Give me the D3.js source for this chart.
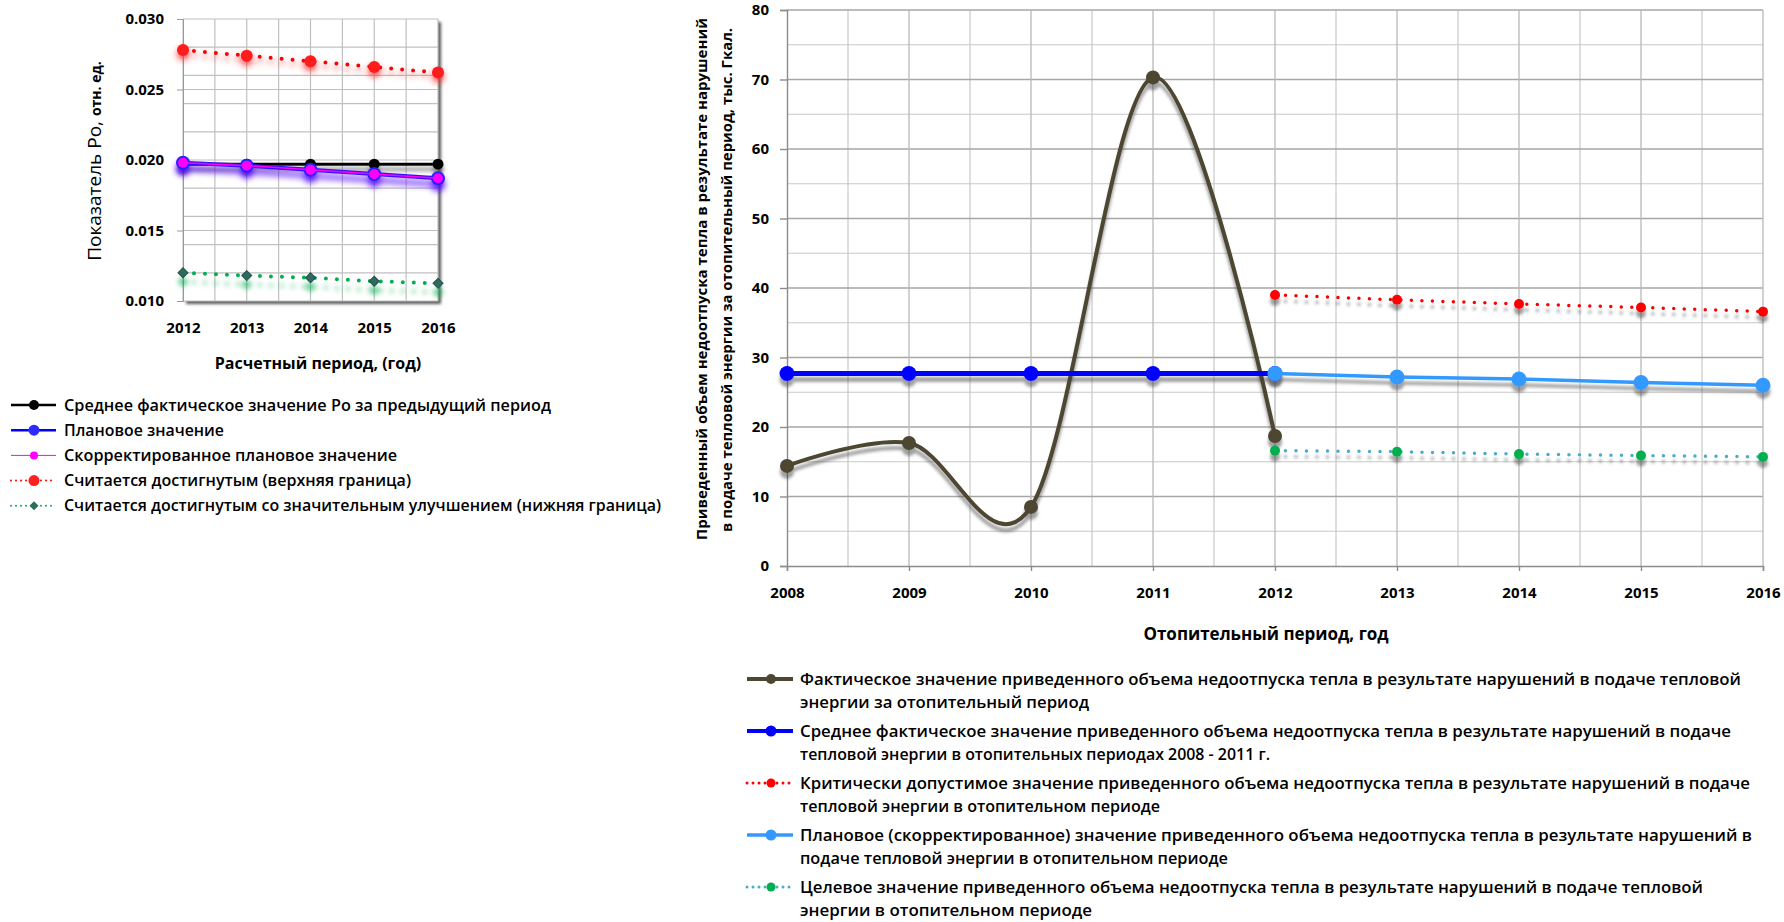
<!DOCTYPE html>
<html><head><meta charset="utf-8">
<script src="https://cdn.jsdelivr.net/npm/d3@7"></script>
<style>
body{margin:0;background:#fff}
svg{display:block}
text{font-family:'Open Sans',sans-serif;fill:#000}
</style>
</head><body>
<svg id="c" width="1784" height="922"></svg>
<script>
// ---------- DATA: left chart ----------
const yearsL = [2012, 2013, 2014, 2015, 2016];
const avgPrevL = [0.0197, 0.0197, 0.0197, 0.0197, 0.0197];
const planL = [0.0198, 0.0196, 0.0193, 0.0190, 0.0187];
const corrPlanL = [0.0198, 0.0196, 0.0193, 0.0190, 0.0187];
const upperL = [0.0278, 0.0274, 0.0270, 0.0266, 0.0262];
const lowerL = [0.0120, 0.0118, 0.01165, 0.0114, 0.01125];
const yTicksL = [0.010, 0.015, 0.020, 0.025, 0.030];
const yGridL = [0.010, 0.012, 0.014, 0.015, 0.016, 0.018, 0.020, 0.022, 0.024, 0.025, 0.026, 0.028, 0.030];
const legendLabelsL = [
  "Среднее фактическое значение Ро за предыдущий период",
  "Плановое значение",
  "Скорректированное плановое значение",
  "Считается достигнутым (верхняя граница)",
  "Считается достигнутым со значительным улучшением (нижняя граница)"
];

// ---------- DATA: right chart ----------
const yearsR = [2008, 2009, 2010, 2011, 2012, 2013, 2014, 2015, 2016];
const yearsHist = [2008, 2009, 2010, 2011, 2012];
const yearsPlan = [2012, 2013, 2014, 2015, 2016];
const factR = [14.4, 17.7, 8.5, 70.3, 18.7];
const avgR = [27.7, 27.7, 27.7, 27.7, 27.7];
const critR = [39.0, 38.3, 37.7, 37.2, 36.6];
const planR = [27.7, 27.2, 26.9, 26.4, 26.0];
const targetR = [16.6, 16.45, 16.1, 15.9, 15.7];
const yTicksR = [0, 10, 20, 30, 40, 50, 60, 70, 80];
const legendLabelsR = [
  ["Фактическое значение приведенного объема недоотпуска тепла в результате нарушений в подаче тепловой", "энергии за отопительный период"],
  ["Среднее фактическое значение приведенного объема недоотпуска тепла в результате нарушений в подаче", "тепловой энергии в отопительных периодах 2008 - 2011  г."],
  ["Критически допустимое значение приведенного объема недоотпуска тепла в результате нарушений в подаче", "тепловой энергии в отопительном периоде"],
  ["Плановое (скорректированное)  значение приведенного объема недоотпуска тепла в результате нарушений в", "подаче тепловой энергии в отопительном периоде"],
  ["Целевое значение приведенного объема недоотпуска тепла в результате нарушений в подаче тепловой", "энергии в отопительном периоде"]
];
const yTitleR = ["Приведенный объем недоотпуска тепла в результате нарушений", "в подаче тепловой энергии за отопительный период, тыс. Гкал."];

// ---------- LAYOUT (sizes only) ----------
const legendWidthsL = [487, 160, 333, 347, 597];
const legendWidthsR = [[941, 289], [931, 470], [950, 360], [952, 428], [903, 292]];

const svg = d3.select('#c');
const defs = svg.append('defs');
function shadow(id, color, dx, dy, blur, op) {
  const f = defs.append('filter').attr('id', id).attr('filterUnits', 'userSpaceOnUse')
    .attr('x', 0).attr('y', 0).attr('width', 1784).attr('height', 922);
  f.append('feGaussianBlur').attr('in', 'SourceAlpha').attr('stdDeviation', blur).attr('result', 'b');
  f.append('feOffset').attr('in', 'b').attr('dx', dx).attr('dy', dy).attr('result', 'o');
  f.append('feFlood').attr('flood-color', color).attr('flood-opacity', op).attr('result', 'c');
  f.append('feComposite').attr('in', 'c').attr('in2', 'o').attr('operator', 'in').attr('result', 's');
  const m = f.append('feMerge');
  m.append('feMergeNode').attr('in', 's');
  m.append('feMergeNode').attr('in', 'SourceGraphic');
}
shadow('shBox', '#333', 3, 3, 1.5, 0.8);
shadow('shRed', '#ff2020', 0, 4, 3, 0.8);
shadow('shBlack', '#555', 0, 5, 2, 0.75);
shadow('shBlue', '#5000ff', 0, 6, 3, 0.9);
shadow('shGreen', '#00b050', 0, 9, 2.5, 0.6);
shadow('shGray', '#444', 0, 6, 1.8, 0.5);

function drawSeries(g, xs, ys, xS, yS, o) {
  const grp = g.append('g').attr('filter', o.filter ? `url(#${o.filter})` : null);
  const pts = xs.map((x, i) => [xS(x), yS(ys[i])]);
  grp.append('path').attr('d', d3.line().curve(o.curve || d3.curveLinear)(pts))
    .attr('fill', 'none').attr('stroke', o.color).attr('stroke-width', o.width)
    .attr('stroke-dasharray', o.dash || null).attr('stroke-linecap', o.dash ? 'round' : 'butt')
    .attr('stroke-linejoin', 'round');
  drawMarkers(grp, pts, o);
}
function drawMarkers(grp, pts, o) {
  if (!o.marker) return;
  pts.forEach(p => {
    if (o.marker === 'diamond') {
      grp.append('path').attr('d', d3.symbol(d3.symbolSquare, o.msize * o.msize / 2)())
        .attr('transform', `translate(${p[0]},${p[1]}) rotate(45)`)
        .attr('fill', o.mfill).attr('stroke', o.mstroke || 'none').attr('stroke-width', 1);
    } else {
      grp.append('circle').attr('cx', p[0]).attr('cy', p[1]).attr('r', o.r)
        .attr('fill', o.mfill).attr('stroke', o.mstroke || 'none').attr('stroke-width', o.mstrokeW || 0);
    }
  });
}

// ================= LEFT CHART =================
const xL = d3.scaleLinear().domain([2012, 2016]).range([183, 438]);
const yL = d3.scaleLinear().domain([0.010, 0.030]).range([301, 19]);
const gL = svg.append('g');
gL.append('rect').attr('x', xL(2012)).attr('y', yL(0.030)).attr('width', xL(2016) - xL(2012))
  .attr('height', yL(0.010) - yL(0.030)).attr('fill', '#fff').attr('filter', 'url(#shBox)');
gL.selectAll('.hg').data(yGridL).join('line').attr('x1', xL(2012)).attr('x2', xL(2016))
  .attr('y1', d => yL(d)).attr('y2', d => yL(d)).attr('stroke', '#c0c0c0').attr('stroke-width', 1.2);
gL.selectAll('.vg').data(d3.range(2012, 2016.01, 0.5)).join('line').attr('y1', yL(0.030)).attr('y2', yL(0.010))
  .attr('x1', d => xL(d)).attr('x2', d => xL(d)).attr('stroke', '#c0c0c0').attr('stroke-width', 1.2);
const axL = gL.append('g').attr('transform', `translate(${xL(2012)},0)`)
  .call(d3.axisLeft(yL).tickValues(yTicksL).tickSize(6).tickPadding(13).tickFormat(d3.format('.3f')));
axL.select('.domain').attr('stroke', '#999');
axL.selectAll('.tick line').attr('stroke', '#999');
axL.selectAll('text').attr('font-size', 15).attr('font-weight', 700).style('font-family', "'Open Sans',sans-serif");
const axLb = gL.append('g').attr('transform', `translate(0,${yL(0.010)})`)
  .call(d3.axisBottom(xL).tickValues(yearsL).tickSize(0).tickPadding(21).tickFormat(d3.format('d')));
axLb.select('.domain').remove();
axLb.selectAll('text').attr('font-size', 15).attr('font-weight', 700).style('font-family', "'Open Sans',sans-serif");

drawSeries(gL, yearsL, upperL, xL, yL, {color: '#ff0000', width: 4, dash: '0 11', marker: 'circle', r: 6, mfill: '#ff1a1a', filter: 'shRed'});
drawSeries(gL, yearsL, lowerL, xL, yL, {color: '#00b050', width: 4, dash: '0 11', marker: 'diamond', msize: 10, mfill: '#2f6b5f', mstroke: '#24504a', filter: 'shGreen'});
drawSeries(gL, yearsL, avgPrevL, xL, yL, {color: '#000', width: 3, marker: 'circle', r: 5.5, mfill: '#000', filter: 'shBlack'});
drawSeries(gL, yearsL, planL, xL, yL, {color: '#3a10ff', width: 4, marker: 'circle', r: 7, mfill: '#2020ff', filter: 'shBlue'});
drawSeries(gL, yearsL, corrPlanL, xL, yL, {color: '#ff00ff', width: 1.5, marker: 'circle', r: 5, mfill: '#ff00ff'});

gL.append('text').attr('transform', `translate(101,161) rotate(-90)`).attr('text-anchor', 'middle')
  .call(t => {
    t.append('tspan').attr('font-size', 19).attr('font-weight', 500).text('Показатель Ро, ');
    t.append('tspan').attr('font-size', 14).attr('font-weight', 700).text('отн. ед.');
  });
gL.append('text').attr('x', 318).attr('y', 369).attr('text-anchor', 'middle')
  .attr('font-size', 16).attr('font-weight', 700).text('Расчетный период, (год)');

// left legend
const legStyleL = [
  {color: '#000', width: 2.5, marker: 'circle', r: 5, mfill: '#000'},
  {color: '#0000ff', width: 2.5, marker: 'circle', r: 5.5, mfill: '#2b2bff'},
  {color: '#ff00ff', width: 1, marker: 'circle', r: 4, mfill: '#ff00ff'},
  {color: '#ff0000', width: 2, dash: '0 5', marker: 'circle', r: 5.5, mfill: '#ff2020'},
  {color: '#00b050', width: 2, dash: '0 5', marker: 'diamond', msize: 9, mfill: '#2f6b5f'}
];
const legL = svg.append('g');
legendLabelsL.forEach((lab, i) => {
  const y = 405 + i * 25.2;
  const s = legStyleL[i];
  legL.append('line').attr('x1', 11).attr('x2', 56).attr('y1', y).attr('y2', y)
    .attr('stroke', s.color).attr('stroke-width', s.width).attr('stroke-dasharray', s.dash || null)
    .attr('stroke-linecap', s.dash ? 'round' : 'butt');
  drawMarkers(legL, [[34, y]], s);
  legL.append('text').attr('x', 64).attr('y', y).attr('dy', '0.35em').attr('font-size', 16).attr('font-weight', 600)
    .attr('textLength', legendWidthsL[i]).attr('lengthAdjust', 'spacingAndGlyphs').text(lab);
});

// ================= RIGHT CHART =================
const xR = d3.scaleLinear().domain([2008, 2016]).range([787, 1763]);
const yR = d3.scaleLinear().domain([0, 80]).range([566, 10]);
const gR = svg.append('g');
gR.selectAll('.hm').data(d3.range(5, 80, 10)).join('line').attr('x1', xR(2008)).attr('x2', xR(2016))
  .attr('y1', d => yR(d)).attr('y2', d => yR(d)).attr('stroke', '#c8c8c8').attr('stroke-width', 1.2);
gR.selectAll('.vm').data(d3.range(2008.5, 2016, 1)).join('line').attr('y1', yR(80)).attr('y2', yR(0))
  .attr('x1', d => xR(d)).attr('x2', d => xR(d)).attr('stroke', '#c8c8c8').attr('stroke-width', 1.2);
gR.selectAll('.hM').data(yTicksR.filter(d => d > 0)).join('line').attr('x1', xR(2008)).attr('x2', xR(2016))
  .attr('y1', d => yR(d)).attr('y2', d => yR(d)).attr('stroke', '#a6a6a6').attr('stroke-width', 1.4);
gR.selectAll('.vM').data(yearsR.slice(1)).join('line').attr('y1', yR(80)).attr('y2', yR(0))
  .attr('x1', d => xR(d)).attr('x2', d => xR(d)).attr('stroke', '#b8b8b8').attr('stroke-width', 1.3);
const axR = gR.append('g').attr('transform', `translate(${xR(2008)},0)`)
  .call(d3.axisLeft(yR).tickValues(yTicksR).tickSize(7).tickPadding(11));
axR.select('.domain').attr('stroke', '#8c8c8c').attr('stroke-width', 1.4);
axR.selectAll('.tick line').attr('stroke', '#8c8c8c').attr('stroke-width', 1.4);
axR.selectAll('text').attr('font-size', 15).attr('font-weight', 700).style('font-family', "'Open Sans',sans-serif");
const axRb = gR.append('g').attr('transform', `translate(0,${yR(0)})`)
  .call(d3.axisBottom(xR).tickValues(yearsR).tickSize(5).tickPadding(16).tickFormat(d3.format('d')));
axRb.select('.domain').attr('stroke', '#8c8c8c').attr('stroke-width', 1.4);
axRb.selectAll('.tick line').attr('stroke', '#8c8c8c').attr('stroke-width', 1.4);
axRb.selectAll('text').attr('font-size', 15).attr('font-weight', 700).style('font-family', "'Open Sans',sans-serif");

const styR = [
  {color: '#4d4632', width: 4, curve: d3.curveCardinal.tension(0), marker: 'circle', r: 7, mfill: '#4d4632', filter: 'shGray'},
  {color: '#0000ff', width: 5, marker: 'circle', r: 7.5, mfill: '#0000ff', filter: 'shGray'},
  {color: '#ff0000', width: 3.5, dash: '0 10.5', marker: 'circle', r: 5, mfill: '#ff0000', filter: 'shGray'},
  {color: '#3399ff', width: 3.5, marker: 'circle', r: 7.5, mfill: '#3399ff', filter: 'shGray'},
  {color: '#4bacc6', width: 3.5, dash: '0 10.5', marker: 'circle', r: 5, mfill: '#00b050', filter: 'shGray'}
];
drawSeries(gR, yearsHist, factR, xR, yR, styR[0]);
drawSeries(gR, yearsHist, avgR, xR, yR, styR[1]);
drawSeries(gR, yearsPlan, critR, xR, yR, styR[2]);
drawSeries(gR, yearsPlan, planR, xR, yR, styR[3]);
drawSeries(gR, yearsPlan, targetR, xR, yR, styR[4]);

[[702, 279, 522], [727, 280, 504]].forEach((p, i) => {
  gR.append('text').attr('transform', `translate(${p[0]},${p[1]}) rotate(-90)`).attr('text-anchor', 'middle')
    .attr('dy', '0.35em').attr('font-size', 14).attr('font-weight', 700)
    .attr('textLength', p[2]).attr('lengthAdjust', 'spacingAndGlyphs').text(yTitleR[i]);
});
gR.append('text').attr('x', 1266).attr('y', 634).attr('dy', '0.35em').attr('text-anchor', 'middle')
  .attr('font-size', 17).attr('font-weight', 700).text('Отопительный период, год');

// right legend
const legR = svg.append('g');
const legStyR = [
  {color: '#4d4632', width: 4, marker: 'circle', r: 5, mfill: '#4d4632'},
  {color: '#0000ff', width: 4, marker: 'circle', r: 5.5, mfill: '#0000ff'},
  {color: '#ff0000', width: 3, dash: '0 6', marker: 'circle', r: 4.5, mfill: '#ff0000'},
  {color: '#3399ff', width: 3.5, marker: 'circle', r: 5.5, mfill: '#3399ff'},
  {color: '#4bacc6', width: 3, dash: '0 6', marker: 'circle', r: 4.5, mfill: '#00b050'}
];
legendLabelsR.forEach((lines, i) => {
  const y = 679 + i * 52;
  const s = legStyR[i];
  legR.append('line').attr('x1', 747).attr('x2', 793).attr('y1', y).attr('y2', y)
    .attr('stroke', s.color).attr('stroke-width', s.width).attr('stroke-dasharray', s.dash || null)
    .attr('stroke-linecap', s.dash ? 'round' : 'butt');
  drawMarkers(legR, [[771, y]], s);
  lines.forEach((ln, j) => {
    legR.append('text').attr('x', 800).attr('y', y + j * 23.5).attr('dy', '0.35em').attr('font-size', 16)
      .attr('font-weight', 600).attr('textLength', legendWidthsR[i][j]).attr('lengthAdjust', 'spacingAndGlyphs').text(ln);
  });
});
</script>
</body></html>
